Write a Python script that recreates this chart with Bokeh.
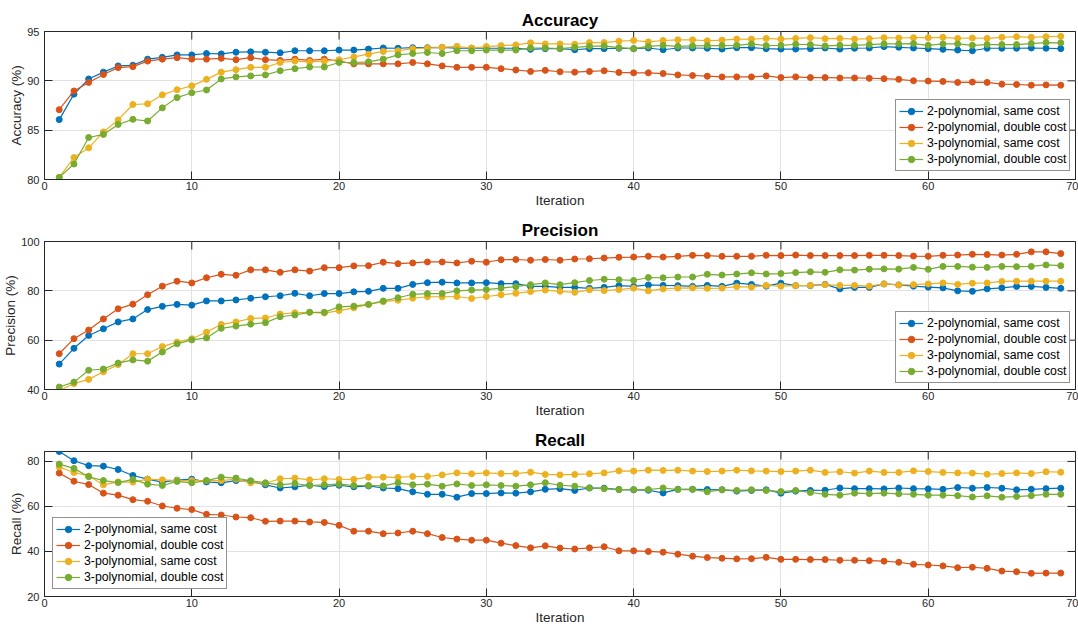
import math
from bokeh.plotting import figure
from bokeh.models import Range1d, Legend, LegendItem, FixedTicker, ColumnDataSource
from bokeh.layouts import column
from bokeh.embed import file_html
from bokeh.resources import INLINE

iterations = list(range(1, 70))
series_names = ["2-polynomial, same cost", "2-polynomial, double cost",
                "3-polynomial, same cost", "3-polynomial, double cost"]
colors = ["#0072BD", "#D95319", "#EDB120", "#77AC30"]
x_ticks = [0, 10, 20, 30, 40, 50, 60, 70]

acc_2p_same = [86.07, 88.65, 90.19, 90.88, 91.51, 91.58, 92.2, 92.38, 92.63, 92.63,
               92.77, 92.73, 92.9, 92.94, 92.9, 92.84, 93.05, 93.05, 93.05, 93.12,
               93.12, 93.22, 93.33, 93.3, 93.36, 93.36, 93.4, 93.3, 93.3, 93.3,
               93.3, 93.3, 93.19, 93.26, 93.26, 93.15, 93.26, 93.26, 93.3, 93.26,
               93.33, 93.15, 93.33, 93.33, 93.3, 93.22, 93.36, 93.36, 93.26, 93.22,
               93.22, 93.26, 93.33, 93.22, 93.3, 93.33, 93.47, 93.4, 93.33, 93.26,
               93.19, 93.12, 93.05, 93.3, 93.3, 93.3, 93.33, 93.3, 93.26]
acc_2p_double = [87.08, 88.97, 89.84, 90.64, 91.34, 91.44, 92.0, 92.2, 92.35, 92.2,
                 92.2, 92.28, 92.14, 92.35, 92.14, 92.07, 92.2, 92.07, 92.2, 92.0,
                 91.72, 91.72, 91.72, 91.72, 91.86, 91.72, 91.51, 91.37, 91.37, 91.37,
                 91.23, 91.1, 90.95, 91.06, 90.92, 90.88, 90.95, 91.02, 90.85, 90.81,
                 90.81, 90.74, 90.6, 90.54, 90.47, 90.4, 90.4, 90.4, 90.5, 90.33,
                 90.4, 90.33, 90.33, 90.29, 90.29, 90.26, 90.22, 90.15, 90.01, 89.98,
                 89.94, 89.84, 89.87, 89.84, 89.66, 89.63, 89.56, 89.59, 89.56]
acc_3p_same = [80.21, 82.23, 83.21, 84.82, 86.04, 87.6, 87.67, 88.58, 89.1, 89.49,
               90.15, 90.88, 91.13, 91.37, 91.37, 91.86, 92.0, 91.93, 92.0, 92.14,
               92.42, 92.7, 92.98, 93.05, 93.26, 93.33, 93.4, 93.5, 93.33, 93.47,
               93.57, 93.64, 93.85, 93.74, 93.74, 93.71, 93.88, 93.88, 94.02, 94.09,
               93.95, 94.09, 94.16, 94.16, 94.06, 94.13, 94.23, 94.23, 94.3, 94.23,
               94.3, 94.37, 94.27, 94.3, 94.23, 94.27, 94.37, 94.34, 94.37, 94.37,
               94.41, 94.3, 94.34, 94.3, 94.41, 94.48, 94.41, 94.48, 94.51]
acc_3p_double = [80.21, 81.57, 84.26, 84.57, 85.58, 86.1, 85.93, 87.26, 88.3, 88.79,
                 89.07, 90.19, 90.4, 90.5, 90.6, 91.02, 91.23, 91.4, 91.4, 91.86,
                 91.86, 91.93, 92.2, 92.63, 92.77, 92.87, 92.77, 93.05, 93.05, 93.12,
                 93.12, 93.12, 93.33, 93.33, 93.26, 93.4, 93.5, 93.54, 93.36, 93.26,
                 93.5, 93.6, 93.5, 93.54, 93.57, 93.57, 93.6, 93.74, 93.57, 93.6,
                 93.71, 93.67, 93.54, 93.6, 93.6, 93.67, 93.74, 93.74, 93.78, 93.6,
                 93.74, 93.74, 93.6, 93.67, 93.67, 93.67, 93.78, 93.88, 93.85]

prec_2p_same = [50.3, 56.7, 61.9, 64.6, 67.4, 68.6, 72.4, 73.7, 74.5, 74.2,
                75.9, 75.9, 76.3, 77.0, 77.6, 78.0, 79.0, 78.0, 78.9, 78.9,
                79.6, 79.8, 81.0, 81.0, 82.6, 83.3, 83.5, 83.2, 83.2, 83.3,
                82.9, 82.9, 81.8, 81.8, 81.4, 81.4, 81.0, 81.4, 82.1, 81.8,
                82.4, 82.2, 82.1, 81.8, 82.2, 81.8, 83.1, 82.6, 81.9, 83.1,
                82.1, 82.1, 82.6, 80.8, 81.4, 81.4, 82.8, 82.4, 81.9, 81.5,
                81.2, 80.0, 79.8, 80.8, 81.2, 81.8, 81.8, 81.4, 81.0]
prec_2p_double = [54.5, 60.6, 64.1, 68.6, 72.7, 74.6, 78.4, 81.9, 83.9, 83.2,
                  85.3, 86.7, 86.3, 88.5, 88.5, 87.5, 88.5, 88.0, 89.4, 89.4,
                  90.1, 90.2, 91.6, 91.0, 91.3, 91.7, 91.7, 91.3, 92.0, 91.6,
                  92.6, 92.7, 92.4, 92.7, 92.4, 92.9, 93.0, 93.3, 93.6, 93.7,
                  94.0, 93.7, 94.0, 94.4, 94.3, 94.0, 94.0, 94.0, 94.4, 94.3,
                  94.5, 94.3, 94.3, 94.3, 94.3, 94.4, 94.4, 94.3, 94.1, 94.0,
                  94.4, 94.5, 94.8, 94.7, 94.5, 94.8, 95.8, 95.8, 95.1]
prec_3p_same = [39.5, 42.4, 44.1, 47.2, 50.1, 54.5, 54.5, 57.4, 59.2, 60.6,
                63.2, 66.4, 67.4, 68.8, 69.0, 70.6, 71.1, 71.3, 71.0, 72.0,
                73.1, 74.5, 75.6, 76.2, 77.0, 77.6, 77.6, 77.7, 76.9, 77.7,
                78.4, 79.0, 79.7, 80.3, 79.8, 79.4, 80.4, 80.1, 80.5, 81.1,
                80.0, 80.8, 81.1, 81.2, 81.0, 81.1, 81.7, 81.5, 82.2, 81.9,
                82.1, 82.2, 82.5, 82.2, 82.2, 81.9, 82.8, 82.4, 82.5, 82.8,
                83.2, 82.6, 83.1, 83.2, 83.8, 83.9, 83.9, 83.9, 83.9]
prec_3p_double = [41.0, 43.0, 47.8, 48.3, 50.7, 52.0, 51.5, 55.2, 58.5, 60.1,
                  60.9, 64.8, 65.7, 66.5, 67.1, 69.5, 70.2, 71.3, 71.3, 73.5,
                  73.8, 74.5, 75.9, 77.2, 78.6, 78.9, 78.9, 80.0, 80.3, 80.5,
                  81.1, 81.7, 82.5, 83.2, 82.5, 83.3, 84.2, 84.7, 84.5, 84.2,
                  85.4, 85.3, 85.6, 85.6, 86.7, 86.4, 86.8, 87.3, 86.8, 87.0,
                  87.4, 87.7, 87.5, 88.5, 88.4, 88.8, 88.9, 88.8, 89.5, 88.7,
                  89.9, 89.9, 89.6, 89.5, 89.9, 89.8, 89.9, 90.5, 90.2]

rec_2p_same = [84.4, 80.3, 78.1, 77.9, 76.4, 73.75, 72.1, 70.8, 71.7, 72.1,
               70.9, 70.5, 71.5, 71.2, 69.6, 68.2, 68.7, 69.4, 68.8, 69.4,
               68.7, 69.1, 68.2, 67.9, 66.5, 65.4, 65.4, 64.1, 65.7, 65.7,
               66.0, 65.9, 66.5, 67.6, 67.9, 67.1, 68.2, 68.1, 67.5, 67.4,
               67.2, 66.0, 67.6, 67.6, 67.5, 67.4, 66.8, 67.1, 67.4, 65.9,
               66.8, 67.1, 67.2, 68.2, 67.9, 67.9, 67.8, 68.2, 67.9, 67.8,
               67.6, 68.4, 68.1, 68.4, 68.1, 67.4, 67.6, 67.9, 68.1]
rec_2p_double = [74.8, 71.2, 69.7, 65.9, 65.0, 63.0, 62.3, 60.2, 59.2, 58.6,
                 56.5, 56.2, 55.3, 55.0, 53.4, 53.5, 53.5, 53.1, 52.9, 51.6,
                 49.0, 49.0, 47.9, 48.2, 49.0, 47.9, 46.2, 45.5, 45.0, 45.0,
                 43.7, 42.6, 41.6, 42.5, 41.5, 41.1, 41.6, 42.1, 40.3, 40.3,
                 40.0, 39.7, 38.8, 37.9, 37.3, 37.0, 36.7, 36.8, 37.4, 36.5,
                 36.5, 36.4, 36.4, 36.1, 36.1, 35.9, 35.7, 35.2, 34.3, 34.0,
                 33.6, 32.8, 33.0, 32.5, 31.3, 31.0, 30.3, 30.4, 30.4]
rec_3p_same = [77.5, 75.1, 73.5, 69.6, 70.9, 70.8, 72.1, 71.8, 71.5, 71.5,
               71.5, 71.5, 72.1, 70.5, 70.3, 72.3, 72.6, 71.8, 72.3, 72.0,
               72.0, 73.0, 73.0, 72.9, 73.3, 73.3, 74.0, 74.9, 74.5, 74.9,
               74.6, 74.6, 75.2, 74.2, 74.0, 74.2, 74.5, 74.9, 75.8, 75.7,
               76.1, 76.0, 76.1, 75.7, 75.5, 75.7, 76.1, 75.8, 75.7, 75.5,
               75.7, 76.1, 75.1, 75.4, 74.8, 75.7, 75.1, 75.1, 75.8, 75.5,
               75.1, 74.9, 74.8, 74.3, 74.6, 74.9, 74.6, 75.4, 75.2]
rec_3p_double = [78.8, 76.9, 73.2, 71.5, 70.6, 72.0, 69.9, 69.3, 71.1, 70.5,
                 71.5, 73.0, 72.6, 71.4, 70.5, 69.6, 70.2, 69.3, 69.6, 69.9,
                 69.3, 69.3, 69.1, 70.5, 69.6, 69.9, 69.0, 70.0, 69.3, 69.6,
                 69.3, 69.0, 69.6, 70.5, 69.4, 69.0, 68.2, 67.9, 67.5, 67.5,
                 67.5, 68.2, 67.5, 67.6, 66.5, 67.4, 67.1, 67.4, 67.1, 66.6,
                 67.1, 66.2, 65.4, 65.0, 65.9, 65.7, 65.9, 65.6, 65.4, 65.0,
                 65.0, 64.8, 64.2, 64.7, 64.1, 64.4, 64.8, 65.4, 65.4]

acc_ticks = [80, 85, 90, 95]
prec_ticks = [40, 60, 80, 100]
rec_ticks = [20, 40, 60, 80]

FONT = "Liberation Sans"
AX = "#262626"
GRID = "#e2e2e2"
X_LO, X_HI = 0, 70


def style_axis(ax, ticks):
    ax.ticker = FixedTicker(ticks=ticks)
    ax.axis_line_color = AX
    ax.axis_line_width = 1
    ax.major_tick_line_color = AX
    ax.major_tick_in = 8
    ax.major_tick_out = 0
    ax.minor_tick_line_color = None
    ax.major_label_text_font = FONT
    ax.major_label_text_color = AX
    ax.major_label_text_font_size = "11px"
    ax.axis_label_text_font = FONT
    ax.axis_label_text_font_size = "13.5px"
    ax.axis_label_text_font_style = "normal"
    ax.axis_label_text_color = AX
    ax.axis_label_standoff = 0


def make_panel(title, ylabel, series, y_lo, y_hi, yticks, height, bottom, legend_loc):
    p = figure(width=1078, height=height, output_backend="svg", toolbar_location=None,
               x_range=Range1d(X_LO, X_HI), y_range=Range1d(y_lo, y_hi),
               min_border_left=44, min_border_right=3, min_border_top=31,
               min_border_bottom=bottom, background_fill_color="white",
               border_fill_color="white")
    p.title.text = title
    p.title.align = "center"
    p.title.text_font = FONT
    p.title.text_font_size = "17px"
    p.title.text_font_style = "bold"
    p.title.text_color = "black"
    p.title.standoff = 4

    p.outline_line_color = AX
    p.outline_line_width = 1
    p.outline_line_alpha = 1

    style_axis(p.xaxis[0], x_ticks)
    p.xaxis.axis_label = "Iteration"
    p.xaxis.major_label_standoff = 2
    style_axis(p.yaxis[0], yticks)
    p.yaxis.axis_label = ylabel
    p.yaxis.major_label_standoff = 5

    p.xgrid.ticker = FixedTicker(ticks=x_ticks)
    p.ygrid.ticker = FixedTicker(ticks=yticks)
    p.xgrid.grid_line_color = GRID
    p.ygrid.grid_line_color = GRID

    # mirrored inward ticks on the right and top edges of the box (clipped to frame)
    p.scatter(x=[X_HI] * len(yticks), y=yticks, marker="dash", size=16,
              line_color=AX, line_width=1)
    p.scatter(x=x_ticks, y=[y_hi] * len(x_ticks), marker="dash", size=16,
              angle=math.pi / 2, line_color=AX, line_width=1)

    items = []
    for name, vals, col in zip(series_names, series, colors):
        src = ColumnDataSource(dict(x=iterations, y=vals))
        lr = p.line("x", "y", source=src, line_color=col, line_width=1.2)
        sr = p.scatter("x", "y", source=src, size=6, fill_color=col, line_color=col)
        items.append(LegendItem(label=name, renderers=[lr, sr]))

    legend = Legend(items=items, location=legend_loc, margin=0, padding=3, spacing=0,
                    glyph_width=24, glyph_height=16, label_height=16, label_standoff=4,
                    label_text_font=FONT, label_text_font_size="12.3px",
                    label_text_color="black", border_line_color=AX, border_line_width=1,
                    background_fill_color="white", background_fill_alpha=1)
    p.add_layout(legend)
    return p


p1 = make_panel("Accuracy", "Accuracy (%)",
                [acc_2p_same, acc_2p_double, acc_3p_same, acc_3p_double],
                80, 95, acc_ticks, 210, 31, (851, 8))
p2 = make_panel("Precision", "Precision (%)",
                [prec_2p_same, prec_2p_double, prec_3p_same, prec_3p_double],
                40, 100, prec_ticks, 210, 31, (851, 6))
p3 = make_panel("Recall", "Recall (%)",
                [rec_2p_same, rec_2p_double, rec_3p_same, rec_3p_double],
                20, 84.4, rec_ticks, 207, 27, (8, 7))

layout = column(p1, p2, p3, spacing=0)
open("out.html", "w").write(file_html(layout, INLINE))
